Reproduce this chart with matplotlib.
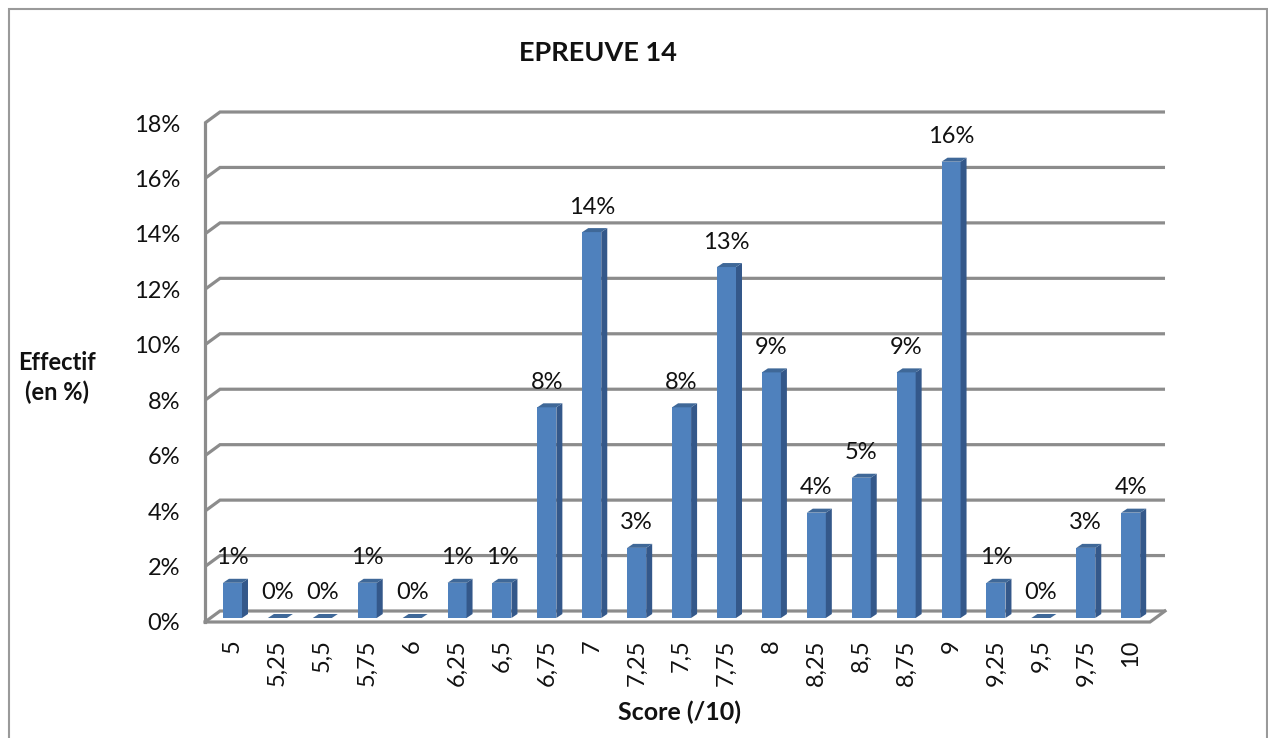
import matplotlib
matplotlib.use("Agg")
import matplotlib.pyplot as plt
from matplotlib.patches import Polygon, Rectangle
from matplotlib.ticker import FixedLocator

categories = ["5", "5,25", "5,5", "5,75", "6", "6,25", "6,5", "6,75", "7", "7,25", "7,5",
              "7,75", "8", "8,25", "8,5", "8,75", "9", "9,25", "9,5", "9,75", "10"]
values = [1.27, 0, 0, 1.27, 0, 1.27, 1.27, 7.6, 13.92, 2.53, 7.6,
          12.66, 8.86, 3.8, 5.06, 8.86, 16.46, 1.27, 0, 2.53, 3.8]
bar_labels = ["1%", "0%", "0%", "1%", "0%", "1%", "1%", "8%", "14%", "3%", "8%",
              "13%", "9%", "4%", "5%", "9%", "16%", "1%", "0%", "3%", "4%"]
y_ticks = [0, 2, 4, 6, 8, 10, 12, 14, 16, 18]
y_tick_labels = ["0%", "2%", "4%", "6%", "8%", "10%", "12%", "14%", "16%", "18%"]

W, H = 1268, 738
FONT = "Lato"
plt.rcParams["font.family"] = [FONT, "DejaVu Sans"]
fig = plt.figure(figsize=(W / 100, H / 100), dpi=100)
fig.patch.set_facecolor("white")

# Outer chart frame
fig.add_artist(Rectangle((9 / W, -0.02), (1267 - 9) / W, 1.02 - 9 / H, transform=fig.transFigure,
                         fill=False, edgecolor="#9a9a9a", linewidth=1.5))

ax = fig.add_axes([205 / W, (H - 622) / H, (1150 - 205) / W, 499 / H])
ax.set_xlim(-0.612, 20.43)
ax.set_ylim(0, 18)
ax.patch.set_alpha(0)
for s in ax.spines.values():
    s.set_visible(False)

px_x = 1 / 44.9      # one pixel in category units
px_y = 1 / 27.72     # one pixel in percent units
wall_dx, wall_dy = 15 * px_x, 11 * px_y
x0, x1 = ax.get_xlim()
GRID = "#8c8c8c"
lw = 2.3

# Gridlines on the back wall, with their side-wall returns
for t in y_ticks:
    ax.plot([x0, x0 + wall_dx, x1 + wall_dx], [t, t + wall_dy, t + wall_dy],
            color=GRID, lw=lw, clip_on=False, solid_joinstyle="miter", solid_capstyle="butt", zorder=1)
# Front axis lines and the floor's right edge
ax.plot([x0, x0], [0, 18], color=GRID, lw=lw, clip_on=False, zorder=1)
ax.plot([x0, x1, x1 + wall_dx], [0, 0, wall_dy], color=GRID, lw=lw, clip_on=False,
        solid_joinstyle="miter", zorder=1)

# 3-D bars
half = 9.5 * px_x
lift = 4 * px_y
dx, dy = 6 * px_x, 4 * px_y
FRONT, SIDE, TOP = "#4f81bd", "#34588a", "#3f6898"
xs = list(range(len(values)))
ax.bar(xs, values, width=2 * half, bottom=lift, color=FRONT, zorder=3, clip_on=False)
for x, v, lab in zip(xs, values, bar_labels):
    top = v + lift
    ax.add_patch(Polygon([(x + half, lift), (x + half + dx, lift + dy), (x + half + dx, top + dy), (x + half, top)],
                         closed=True, facecolor=SIDE, edgecolor="none", zorder=3, clip_on=False))
    ax.add_patch(Polygon([(x - half, top), (x - half + dx, top + dy), (x + half + dx, top + dy), (x + half, top)],
                         closed=True, facecolor=TOP, edgecolor="none", zorder=3, clip_on=False))
    ax.annotate(lab, (x, top), xytext=(0, 18), textcoords="offset points", ha="center", va="center",
                fontsize=17, color="#111111", zorder=4, annotation_clip=False)

ax.xaxis.set_major_locator(FixedLocator(xs))
ax.set_xticklabels(categories, rotation=90, ha="center", va="top", fontsize=17, color="#111111")
ax.yaxis.set_major_locator(FixedLocator(y_ticks))
ax.set_yticklabels(y_tick_labels, fontsize=17, color="#111111")
ax.tick_params(axis="x", length=0, pad=12.5)
ax.tick_params(axis="y", length=0, pad=18)

def ftext(x, y, s, size):
    fig.text(x / W, 1 - y / H, s, ha="center", va="center", fontsize=size, fontweight="bold", color="#111111")

ftext(598, 53, "EPREUVE 14", 19.5)
ftext(680, 712, "Score (/10)", 18)
ftext(57, 362, "Effectif", 17)
ftext(57, 392, "(en %)", 17)

fig.savefig("out.png", dpi=100)
